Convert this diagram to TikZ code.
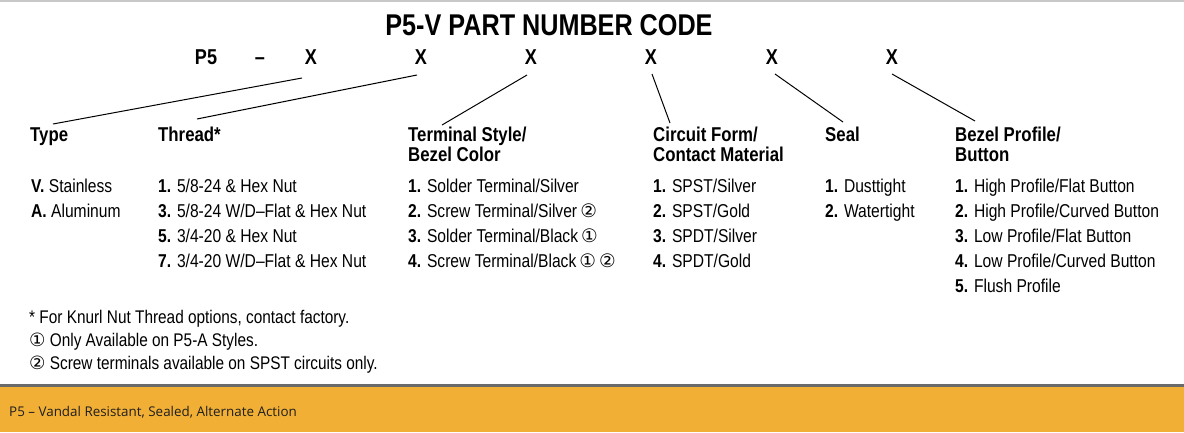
\documentclass[tikz,border=0pt]{standalone}
\usepackage{fontspec}
\setmainfont{Liberation Sans}[FakeStretch=0.84]
\newfontfamily\symf{DejaVu Sans}[Scale=1.0]
\newfontfamily\footf{Open Sans}
\newcommand{\cone}{{\symf ①}}
\newcommand{\ctwo}{{\symf ②}}
\definecolor{band}{HTML}{F1AF35}
\definecolor{sepgray}{HTML}{6A6A6A}
\definecolor{topgray}{HTML}{C8C8C8}
\begin{document}
\begin{tikzpicture}[x=1pt,y=-1pt,
  titlestyle/.style={font=\fontsize{30}{31}\selectfont\bfseries,anchor=base,inner sep=0},
  codestyle/.style={font=\fontsize{21.5}{22}\selectfont\bfseries,anchor=base,inner sep=0},
  headstyle/.style={font=\fontsize{20}{21}\selectfont\bfseries,anchor=base west,inner sep=0},
  itemstyle/.style={font=\fontsize{18.6}{20}\selectfont,anchor=base west,inner sep=0},
  notestyle/.style={font=\fontsize{18.3}{20}\selectfont,anchor=base west,inner sep=0},
  conn/.style={draw=black,line width=1pt}]
\useasboundingbox (0,0) rectangle (1184,432);
% top rule, separator and footer band
\fill[topgray] (0,0) rectangle (1184,1.5);
\fill[band] (0,387) rectangle (1184,432);
\fill[sepgray] (0,383.5) rectangle (1184,387);
\node[font=\footf\fontsize{13.4}{15}\selectfont,text=black!88,anchor=base west,inner sep=0] (foot) at (9,416) {P5 – Vandal Resistant, Sealed, Alternate Action};
% title
\node[titlestyle] (title) at (549,35) {P5-V PART NUMBER CODE};
% code row
\node[codestyle] (p5) at (206,64) {P5};
\node[codestyle] (dash) at (260,64) {–};
\node[codestyle] (x1) at (311,64) {X};
\node[codestyle] (x2) at (421,64) {X};
\node[codestyle] (x3) at (531,64) {X};
\node[codestyle] (x4) at (651,64) {X};
\node[codestyle] (x5) at (772,64) {X};
\node[codestyle] (x6) at (892,64) {X};
% headers
\node[headstyle] (h1) at (30,141) {Type};
\node[headstyle] (h2) at (158,141) {Thread*};
\node[headstyle] (h3) at (408,141) {Terminal Style/};
\node[headstyle] (h3b) at (408,161) {Bezel Color};
\node[headstyle] (h4) at (653,141) {Circuit Form/};
\node[headstyle] (h4b) at (653,161) {Contact Material};
\node[headstyle] (h5) at (825,141) {Seal};
\node[headstyle] (h6) at (955,141) {Bezel Profile/};
\node[headstyle] (h6b) at (955,161) {Button};
% connectors
\coordinate (c1a) at (302,78); \coordinate (c1b) at (53,124);
\coordinate (c2a) at (417,75); \coordinate (c2b) at (197,119);
\coordinate (c3a) at (527,75); \coordinate (c3b) at (442,125);
\coordinate (c4a) at (652,74); \coordinate (c4b) at (670,123);
\coordinate (c5a) at (775,74); \coordinate (c5b) at (843,122);
\coordinate (c6a) at (892,74); \coordinate (c6b) at (975,121);
\draw[conn] (c1a) -- (c1b);
\draw[conn] (c2a) -- (c2b);
\draw[conn] (c3a) -- (c3b);
\draw[conn] (c4a) -- (c4b);
\draw[conn] (c5a) -- (c5b);
\draw[conn] (c6a) -- (c6b);
% column 1
\node[itemstyle] (t1) at (31,192) {\textbf{V.} Stainless};
\node[itemstyle] (t2) at (31,217) {\textbf{A.} Aluminum};
% column 2
\node[itemstyle] (r1) at (158,192) {\textbf{1.} 5/8-24 \& Hex Nut};
\node[itemstyle] (r2) at (158,217) {\textbf{3.} 5/8-24 W/D–Flat \& Hex Nut};
\node[itemstyle] (r3) at (158,242) {\textbf{5.} 3/4-20 \& Hex Nut};
\node[itemstyle] (r4) at (158,267) {\textbf{7.} 3/4-20 W/D–Flat \& Hex Nut};
% column 3
\node[itemstyle] (s1) at (408,192) {\textbf{1.} Solder Terminal/Silver};
\node[itemstyle] (s2) at (408,217) {\textbf{2.} Screw Terminal/Silver\,\ctwo};
\node[itemstyle] (s3) at (408,242) {\textbf{3.} Solder Terminal/Black\,\cone};
\node[itemstyle] (s4) at (408,267) {\textbf{4.} Screw Terminal/Black\,\cone\,\ctwo};
% column 4
\node[itemstyle] (f1) at (653,192) {\textbf{1.} SPST/Silver};
\node[itemstyle] (f2) at (653,217) {\textbf{2.} SPST/Gold};
\node[itemstyle] (f3) at (653,242) {\textbf{3.} SPDT/Silver};
\node[itemstyle] (f4) at (653,267) {\textbf{4.} SPDT/Gold};
% column 5
\node[itemstyle] (e1) at (825,192) {\textbf{1.} Dusttight};
\node[itemstyle] (e2) at (825,217) {\textbf{2.} Watertight};
% column 6
\node[itemstyle] (b1) at (955,192) {\textbf{1.} High Profile/Flat Button};
\node[itemstyle] (b2) at (955,217) {\textbf{2.} High Profile/Curved Button};
\node[itemstyle] (b3) at (955,242) {\textbf{3.} Low Profile/Flat Button};
\node[itemstyle] (b4) at (955,267) {\textbf{4.} Low Profile/Curved Button};
\node[itemstyle] (b5) at (955,292) {\textbf{5.} Flush Profile};
% footnotes
\node[notestyle] (n1) at (29,323) {* For Knurl Nut Thread options, contact factory.};
\node[notestyle] (n2) at (29,346) {\cone\ Only Available on P5-A Styles.};
\node[notestyle] (n3) at (29,369) {\ctwo\ Screw terminals available on SPST circuits only.};
\end{tikzpicture}
\end{document}
